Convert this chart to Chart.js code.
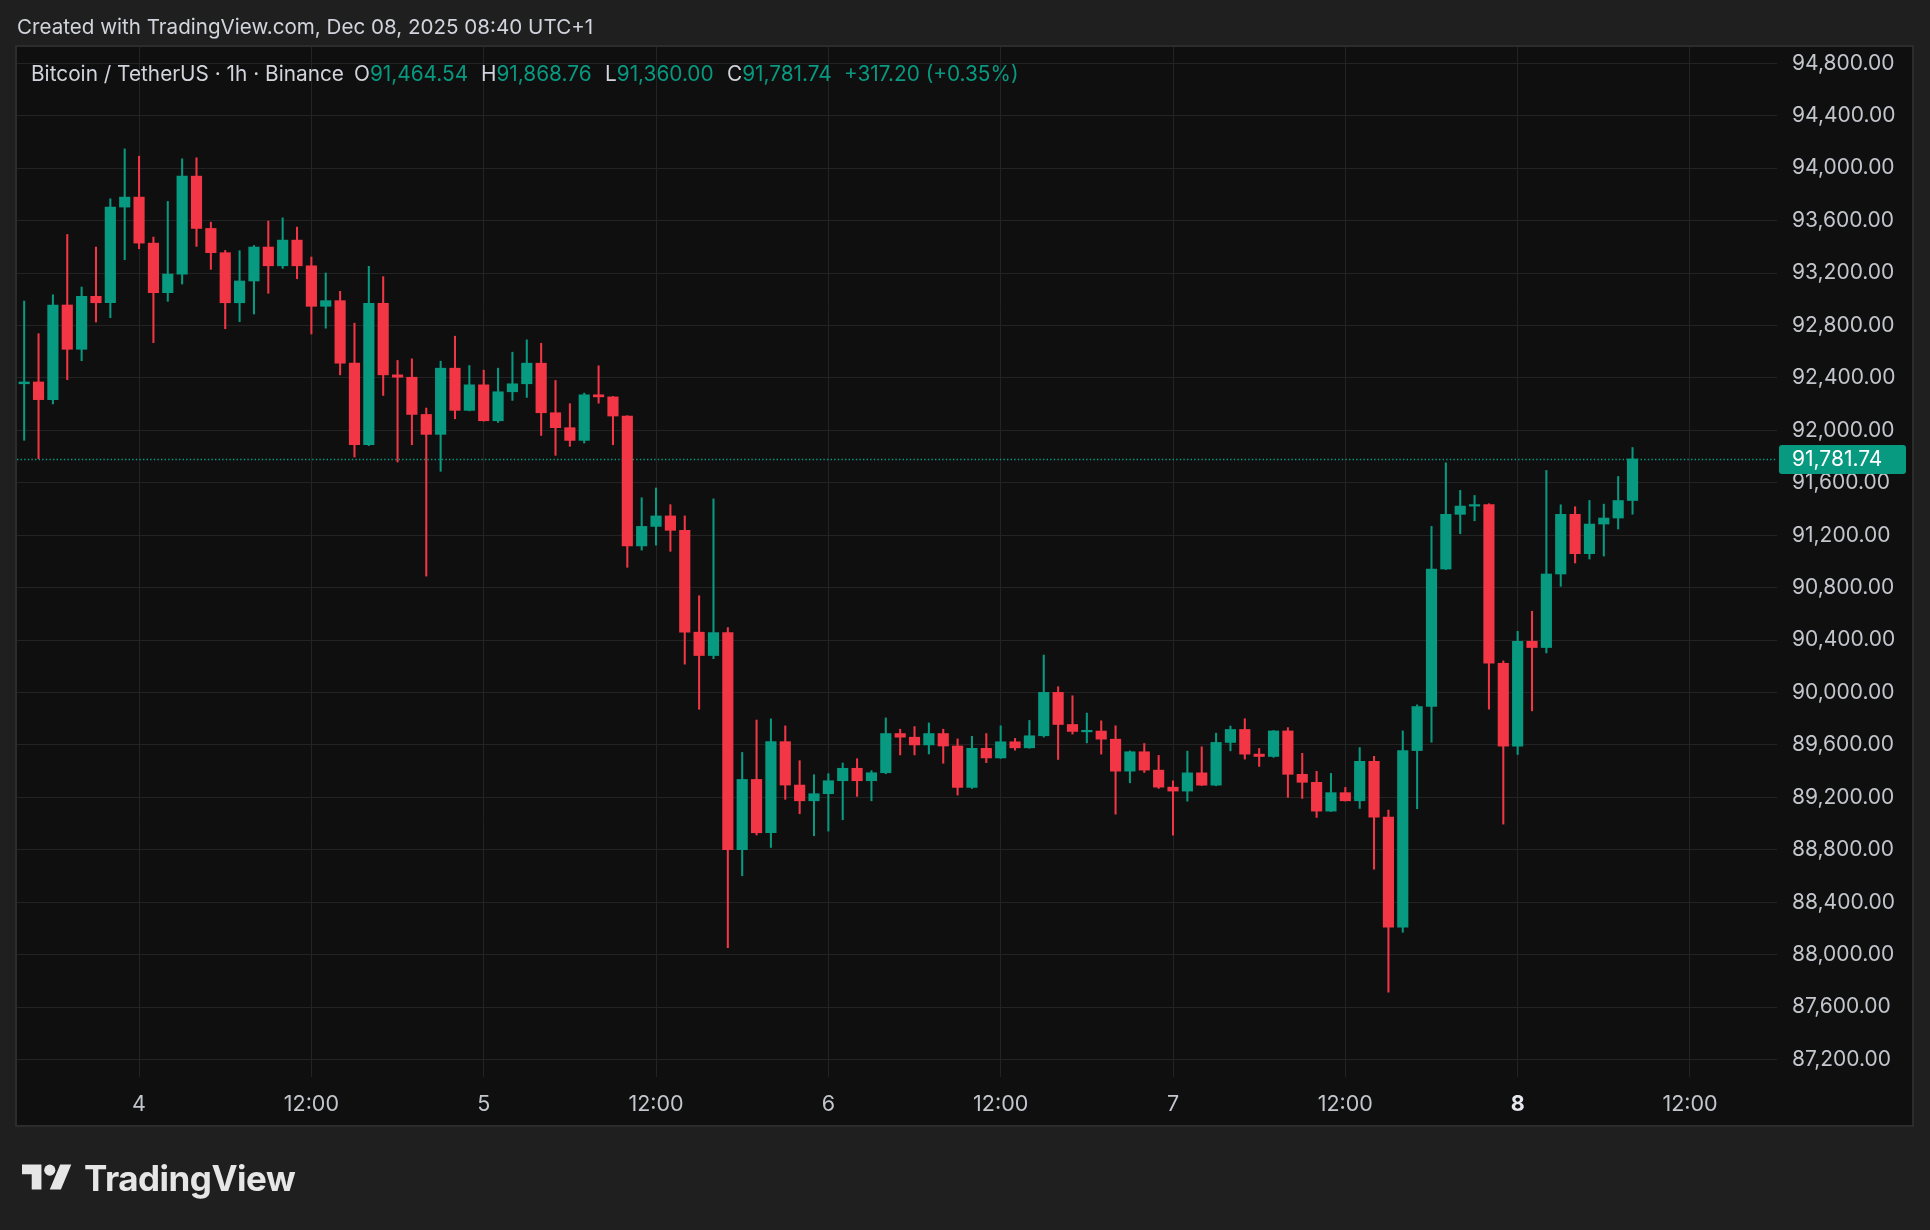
<!DOCTYPE html>
<html>
<head>
<meta charset="utf-8">
<title>BTC/USDT 1h</title>
<script src="https://cdn.jsdelivr.net/npm/chart.js@4.4.1/dist/chart.umd.min.js"></script>
<style>
  html, body { margin: 0; padding: 0; background: #1f1f1f; }
  body { width: 1930px; height: 1230px; position: relative; overflow: hidden; font-family: Inter, "Noto Sans", sans-serif; }
  #chart { position: absolute; left: 0; top: 0; }
  #created { position: absolute; left: 17px; top: 14px; font-size: 20.6px; color: #d1d4dc; }
  .leg { position: absolute; top: 61px; font-size: 20.8px; color: #d1d4dc; white-space: pre; }
  .up { color: #089981; }
  #logo { position: absolute; left: 22px; top: 1157px; display: flex; align-items: center; }
  #logo span { font-size: 35px; font-weight: 700; color: #e6e6e6; margin-left: 12px; letter-spacing: -0.5px; }
</style>
</head>
<body>
<canvas id="chart" width="1930" height="1230"></canvas>
<div id="created">Created with TradingView.com, Dec 08, 2025 08:40 UTC+1</div>
<div class="leg" style="left:31px">Bitcoin / TetherUS · 1h · Binance</div>
<div class="leg" style="left:354px">O<span class="up">91,464.54</span></div>
<div class="leg" style="left:481px">H<span class="up">91,868.76</span></div>
<div class="leg" style="left:605px">L<span class="up">91,360.00</span></div>
<div class="leg" style="left:727px">C<span class="up">91,781.74</span></div>
<div class="leg up" style="left:844px">+317.20 (+0.35%)</div>
<div id="logo">
  <svg width="50" height="39" viewBox="0 0 36 28"><path fill="#e6e6e6" d="M14 22H7V11H0V4h14v18zM28 22h-8l7.5-18h8L28 22z"/><circle fill="#e6e6e6" cx="20" cy="8" r="4"/></svg>
  <span>TradingView</span>
</div>
<script>
// hourly candles, first one is Dec 3 16:00, last one Dec 8 08:00
const opens = [
  92355, 92369, 92234, 92956, 92618, 93022, 92973, 93703, 93779, 93428,
  93050, 93192, 93939, 93540, 93355, 92973, 93139, 93398, 93255, 93451,
  93255, 92946, 92989, 92512, 91890, 92969, 92423, 92405, 92121, 91969,
  92474, 92152, 92347, 92073, 92294, 92355, 92512, 92134, 92020, 91923,
  92271, 92255, 92109, 91118, 91267, 91347, 91237, 90460, 90282, 90457,
  88801, 89337, 88930, 89625, 89294, 89174, 89228, 89327, 89422, 89327,
  89388, 89687, 89659, 89600, 89687, 89592, 89276, 89574, 89501, 89624,
  89578, 89670, 90001, 89756, 89700, 89706, 89644, 89400, 89548, 89408,
  89278, 89248, 89387, 89293, 89619, 89718, 89530, 89512, 89707, 89376,
  89315, 89095, 89236, 89174, 89475, 89049, 88209, 89557, 89893, 90942,
  91359, 91422, 91433, 90223, 89591, 90391, 90343, 90904, 91359, 91059,
  91285, 91331, 91464.54
];
const highs = [
  92986, 92737, 93034, 93494, 93093, 93398, 93766, 94147, 94091, 93474,
  93746, 94071, 94079, 93588, 93372, 93370, 93410, 93596, 93621, 93550,
  93322, 93200, 93060, 92817, 93251, 93172, 92533, 92545, 92170, 92527,
  92718, 92494, 92459, 92474, 92596, 92690, 92664, 92380, 92203, 92284,
  92492, 92258, 92112, 91486, 91560, 91433, 91347, 90738, 91477, 90495,
  89543, 89790, 89799, 89745, 89480, 89373, 89381, 89462, 89495, 89404,
  89806, 89720, 89740, 89768, 89720, 89646, 89666, 89687, 89746, 89650,
  89787, 90286, 90044, 89975, 89843, 89784, 89746, 89555, 89611, 89520,
  89326, 89553, 89586, 89690, 89744, 89800, 89573, 89710, 89732, 89536,
  89399, 89383, 89276, 89580, 89513, 89103, 89707, 89906, 91267, 91752,
  91542, 91503, 91440, 90241, 90467, 90620, 91694, 91432, 91417, 91465,
  91437, 91648, 91868.76
];
const lows = [
  91924, 91784, 92201, 92386, 92531, 92826, 92859, 93301, 93385, 92669,
  92984, 93116, 93403, 93228, 92775, 92829, 92887, 93045, 93235, 93156,
  92735, 92779, 92423, 91796, 91883, 92266, 91758, 91890, 90888, 91687,
  92088, 92148, 92070, 92060, 92228, 92251, 91961, 91809, 91878, 91903,
  92207, 91890, 90955, 91086, 91124, 91077, 90216, 89872, 90258, 88053,
  88602, 88913, 88818, 89185, 89075, 88907, 88943, 89029, 89208, 89174,
  89380, 89524, 89524, 89531, 89460, 89218, 89268, 89465, 89497, 89560,
  89575, 89660, 89489, 89683, 89616, 89530, 89072, 89311, 89390, 89268,
  88912, 89171, 89290, 89288, 89555, 89492, 89436, 89505, 89200, 89192,
  89047, 89093, 89172, 89116, 88652, 87714, 88171, 89113, 89621, 90938,
  91211, 91310, 89873, 88996, 89527, 89860, 90302, 90810, 90988, 91018,
  91041, 91247, 91360
];
const closes = [
  92369, 92234, 92956, 92618, 93022, 92973, 93703, 93779, 93428, 93050,
  93192, 93939, 93540, 93355, 92973, 93139, 93398, 93255, 93451, 93255,
  92946, 92989, 92512, 91890, 92969, 92423, 92405, 92121, 91969, 92474,
  92152, 92347, 92073, 92294, 92355, 92512, 92134, 92020, 91923, 92271,
  92255, 92109, 91118, 91267, 91347, 91237, 90460, 90282, 90457, 88801,
  89337, 88930, 89625, 89294, 89174, 89228, 89327, 89422, 89327, 89388,
  89687, 89659, 89600, 89687, 89592, 89276, 89574, 89501, 89624, 89578,
  89670, 90001, 89756, 89703, 89706, 89644, 89400, 89548, 89408, 89278,
  89248, 89387, 89293, 89619, 89718, 89530, 89512, 89707, 89376, 89315,
  89095, 89236, 89174, 89475, 89049, 88209, 89557, 89893, 90942, 91359,
  91422, 91433, 90223, 89591, 90391, 90343, 90904, 91359, 91059, 91285,
  91331, 91464.54, 91781.74
];

// x axis = hours since the first candle
const timeTicks = [8, 20, 32, 44, 56, 68, 80, 92, 104, 116];
const timeLabels = ['4', '12:00', '5', '12:00', '6', '12:00', '7', '12:00', '8', '12:00'];
const todayTick = 104;
const priceTicks = [87200, 87600, 88000, 88400, 88800, 89200, 89600, 90000, 90400,
  90800, 91200, 91600, 92000, 92400, 92800, 93200, 93600, 94000, 94400, 94800];

const UP = '#089981';
const DOWN = '#f23645';
const GRID = '#232323';
const AXIS_TEXT = '#c3c6cc';
const FONT = 'Inter, "Noto Sans", sans-serif';

const lastClose = closes[closes.length - 1];
const candleColors = opens.map((o, i) => closes[i] >= o ? UP : DOWN);

function fmtPrice(v) {
    return v.toLocaleString('en-US', { minimumFractionDigits: 2, maximumFractionDigits: 2 });
}

// panel background + border
const panelBg = {
    id: 'panelBg',
    beforeDraw(chart) {
        const ctx = chart.ctx;
        ctx.save();
        ctx.fillStyle = '#1f1f1f';
        ctx.fillRect(0, 0, chart.width, chart.height);
        ctx.fillStyle = '#0f0f0f';
        ctx.fillRect(17, 47, 1895, 1078);
        ctx.strokeStyle = '#2c2c2c';
        ctx.lineWidth = 2;
        ctx.strokeRect(16, 46, 1897, 1080);
        ctx.restore();
    }
};

// dotted last price line + price tag on the axis
const lastPriceLine = {
    id: 'lastPriceLine',
    beforeDatasetsDraw(chart) {
        const { ctx, chartArea, scales } = chart;
        const y = Math.round(scales.y.getPixelForValue(lastClose)) + 0.5;
        ctx.save();
        ctx.strokeStyle = UP;
        ctx.lineWidth = 1.3;
        ctx.setLineDash([1.4, 2.2]);
        ctx.beginPath();
        ctx.moveTo(chartArea.left, y);
        ctx.lineTo(chartArea.right, y);
        ctx.stroke();
        ctx.restore();
    },
    afterDraw(chart) {
        const { ctx, chartArea, scales } = chart;
        const y = scales.y.getPixelForValue(lastClose);
        const x = chartArea.right + 2;
        ctx.save();
        ctx.fillStyle = UP;
        ctx.beginPath();
        ctx.roundRect(x, y - 14, 127, 29, 3);
        ctx.fill();
        ctx.fillStyle = '#ffffff';
        ctx.font = '21px ' + FONT;
        ctx.textBaseline = 'middle';
        ctx.fillText(fmtPrice(lastClose), chartArea.right + 15, y + 1);
        ctx.restore();
    }
};

new Chart(document.getElementById('chart'), {
    type: 'bar',
    data: {
        datasets: [
            {
                label: 'body',
                data: opens.map((o, i) => ({ x: i, y: [o, closes[i]] })),
                backgroundColor: candleColors,
                borderWidth: 0,
                barThickness: 10.5,
                minBarLength: 1.5,
                grouped: false,
                order: 1
            },
            {
                label: 'wick',
                data: lows.map((l, i) => ({ x: i, y: [l, highs[i]] })),
                backgroundColor: candleColors,
                borderWidth: 0,
                barThickness: 1.4,
                grouped: false,
                order: 2
            }
        ]
    },
    options: {
        responsive: false,
        animation: false,
        devicePixelRatio: 1,
        layout: { padding: { left: 17, top: 47, right: 18, bottom: 105 } },
        plugins: { legend: { display: false }, tooltip: { enabled: false } },
        scales: {
            x: {
                type: 'linear',
                min: -0.5,
                max: 122.06,
                offset: false,
                grid: { color: GRID, drawTicks: false, offset: false },
                border: { display: false },
                afterBuildTicks: s => { s.ticks = timeTicks.map(v => ({ value: v })); },
                afterFit: s => { s.height = 48; },
                ticks: {
                    autoSkip: false,
                    maxRotation: 0,
                    padding: 15,
                    color: c => c.tick && c.tick.value === todayTick ? '#e6e8ee' : AXIS_TEXT,
                    font: c => ({ family: FONT, size: 21.5, weight: c.tick && c.tick.value === todayTick ? '700' : '400' }),
                    callback: (v, i) => timeLabels[i]
                }
            },
            y: {
                type: 'linear',
                position: 'right',
                min: 87067,
                max: 94924,
                beginAtZero: false,
                grid: { color: GRID, drawTicks: false },
                border: { display: false },
                afterBuildTicks: s => { s.ticks = priceTicks.map(v => ({ value: v })); },
                afterFit: s => { s.width = 135; },
                ticks: {
                    padding: 15,
                    color: AXIS_TEXT,
                    font: { family: FONT, size: 21 },
                    callback: v => fmtPrice(v)
                }
            }
        }
    },
    plugins: [panelBg, lastPriceLine]
});
</script>
</body>
</html>
